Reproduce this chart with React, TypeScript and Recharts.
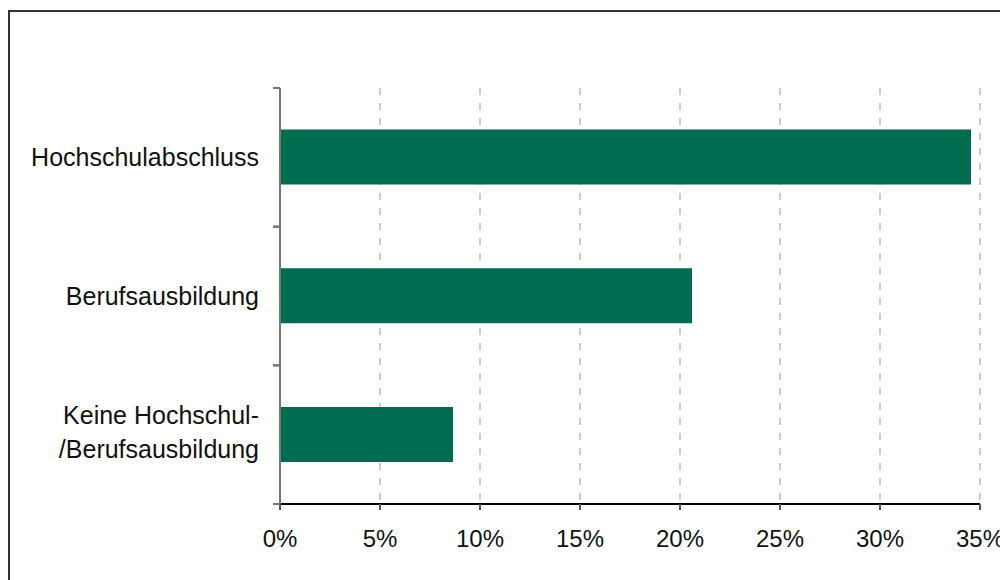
import React from 'react';
import { BarChart, Bar, XAxis, YAxis, CartesianGrid } from 'recharts';

const categories: string[] = ['Hochschulabschluss', 'Berufsausbildung', 'Keine Hochschul-\n/Berufsausbildung'];
const values: number[] = [0.3455, 0.206, 0.0865];
const xTicks: number[] = [0, 0.05, 0.1, 0.15, 0.2, 0.25, 0.3, 0.35];

const data = categories.map((c, i) => ({ name: c, value: values[i] }));

const FONT = '"Liberation Sans", Arial, sans-serif';

const CategoryTick = (props: any) => {
  const { x, y, payload } = props;
  const half = payload.offset || 0;
  const lines: string[] = String(payload.value).split('\n');
  const lh = 34;
  const start = -((lines.length - 1) * lh) / 2 - (lines.length > 1 ? 3 : 0);
  const axisX = x;
  return (
    <g>
      <line x1={axisX - 7} x2={axisX} y1={y - half} y2={y - half} stroke="#777" strokeWidth={2} />
      <line x1={axisX - 7} x2={axisX} y1={y + half} y2={y + half} stroke="#777" strokeWidth={2} />
      <text x={axisX - 21} y={y} textAnchor="end" fill="#111" fontSize={25} fontFamily={FONT} dominantBaseline="central">
        {lines.map((l, i) => (
          <tspan key={i} x={axisX - 21} dy={i === 0 ? start : lh}>{l}</tspan>
        ))}
      </text>
    </g>
  );
};

const NumTick = (props: any) => {
  const { x, y, payload } = props;
  return (
    <text x={x} y={y + 35} textAnchor="middle" fill="#111" fontSize={24} fontFamily={FONT}>
      {`${Math.round(payload.value * 100)}%`}
    </text>
  );
};

export default function App() {
  return (
    <div style={{ position: 'fixed', left: 0, top: 0, width: 1000, height: 580, overflow: 'hidden', background: '#fff' }}>
      <div style={{ position: 'absolute', left: 8, top: 10, width: 1100, height: 700, border: '2px solid #333', boxSizing: 'border-box' }} />
      <div style={{ position: 'absolute', left: 0, top: 0 }}>
        <BarChart
          width={1000}
          height={580}
          data={data}
          layout="vertical"
          margin={{ top: 88, right: 20, bottom: 36, left: 0 }}
          barCategoryGap="30%"
        >
          <CartesianGrid horizontal={false} vertical={true} stroke="#999" strokeDasharray="7 8" strokeWidth={1} />
          <XAxis
            type="number"
            domain={[0, 0.35]}
            ticks={xTicks}
            interval={0}
            height={40}
            axisLine={{ stroke: '#000', strokeWidth: 2 }}
            tickLine={{ stroke: '#555', strokeWidth: 2 }}
            tickSize={6}
            tick={<NumTick />}
          />
          <YAxis
            type="category"
            dataKey="name"
            width={280}
            axisLine={{ stroke: '#777', strokeWidth: 2 }}
            tickLine={false}
            tickSize={0}
            tickMargin={0}
            tick={<CategoryTick />}
            interval={0}
          />
          <Bar dataKey="value" fill="#006C4F" isAnimationActive={false} />
        </BarChart>
      </div>
    </div>
  );
}
